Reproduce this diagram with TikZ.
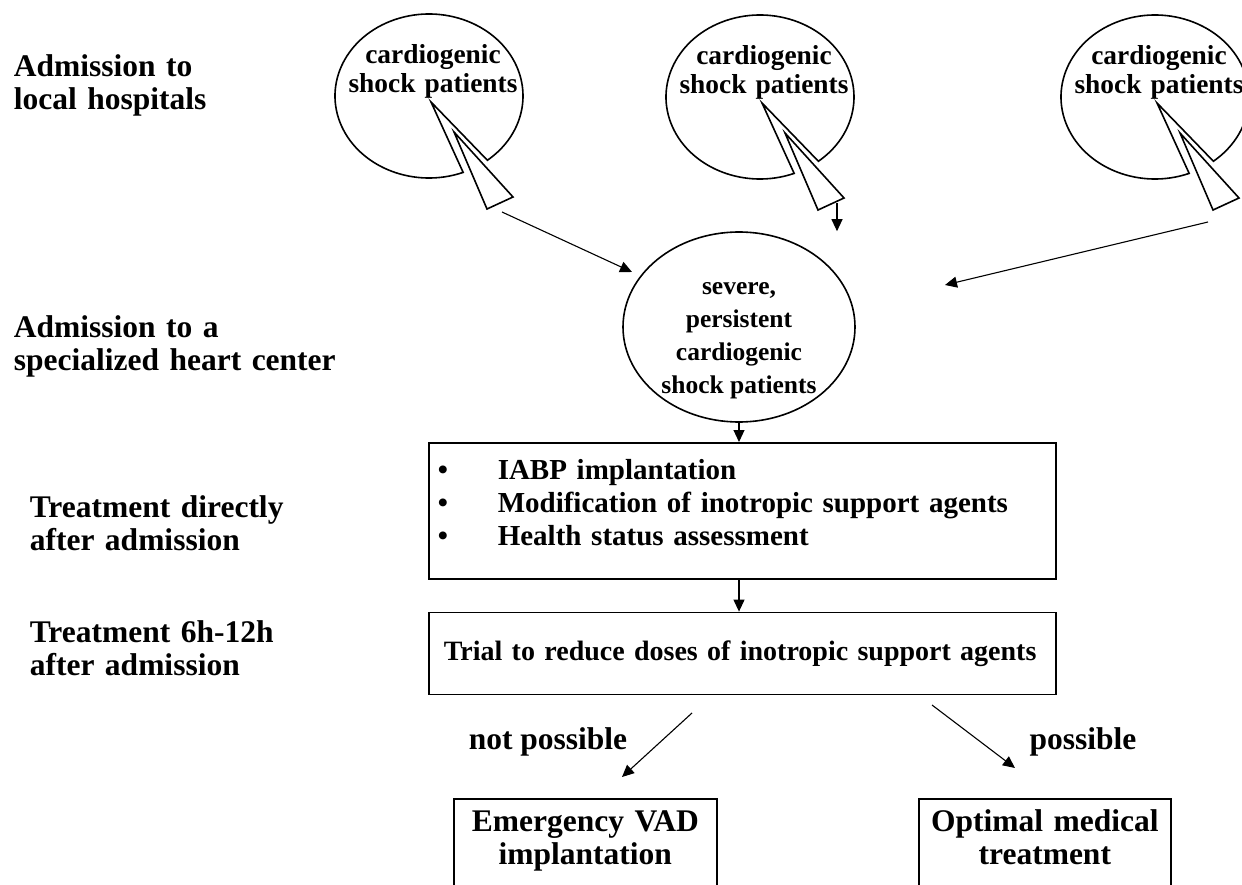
\documentclass[tikz,border=0pt]{standalone}
\usepackage{fontspec}
\setmainfont{Liberation Serif}
\usetikzlibrary{positioning, arrows.meta, calc, shapes.geometric}

\begin{document}
\begin{tikzpicture}[
    x=1pt, y=-1pt,
    line width=1.6pt,
    stage/.style={anchor=base west, align=left, inner sep=0pt, text width=340pt,
        font=\fontsize{31.5}{33}\selectfont\bfseries},
    calltext/.style={anchor=base, align=center, inner sep=0pt, text width=180pt,
        font=\fontsize{27.4}{29}\selectfont\bfseries},
    frame/.style={draw, rectangle, inner sep=0pt},
    branch/.style={anchor=base, inner sep=0pt, font=\fontsize{31.5}{33}\selectfont\bfseries},
    arr/.style={-{Triangle[length=12pt, width=11pt]}, line width=1.1pt},
]

\path[use as bounding box, fill=white] (0,0) rectangle (1242,885);

% stages on the left
\node[stage] (local) at (13,77) {Admission to\\local hospitals};
\node[stage] (center) at (13,337) {Admission to a\\specialized heart center};
\node[stage] (direct) at (29,517) {Treatment directly\\after admission};
\node[stage] (later) at (29,642) {Treatment 6h-12h\\after admission};

% balloons of the local hospitals
\foreach \cx/\cy [count=\i] in {429/96, 760/97, 1155/97} {
    \coordinate (c\i) at (\cx,\cy);
    \node[calltext] (t\i) at (\cx+4,\cy-32) {cardiogenic\\shock patients};
    \draw (c\i) ++(68.7:94 and 82)
        arc[start angle=68.7, end angle=411.6, x radius=94, y radius=82]
        -- ($(c\i)+(2,6)$) -- cycle;
    \draw ($(c\i)+(25,36)$) -- ($(c\i)+(58,113)$) -- ($(c\i)+(84,101)$) -- cycle;
}

\node[ellipse, draw, minimum width=232pt, minimum height=190pt, inner xsep=0pt,
      inner ysep=-8pt, text height=139pt, align=center,
      font=\fontsize{25.5}{33}\selectfont\bfseries] (severe) at (739,327)
    {severe,\\persistent\\cardiogenic\\shock patients};

\coordinate (from1) at (502,212);
\coordinate (from2) at (837,203);
\coordinate (from3) at (1208,222);
\coordinate (to1) at (632,272);
\coordinate (to3) at (945,285);

\draw[arr] (from1) -- (to1);
\draw[arr] (from2) -- (from2 |- severe.north);
\draw[arr] (from3) -- (to3);

% treatment boxes
\node[frame, anchor=north west, inner xsep=9pt, inner ysep=17pt, text width=609pt,
      align=left, text height=20pt, text depth=82pt,
      font=\fontsize{29}{33}\selectfont\bfseries] (measures) at (428,442)
    {\makebox[60pt][l]{\textbullet}IABP implantation\\
     \makebox[60pt][l]{\textbullet}Modification of inotropic support agents\\
     \makebox[60pt][l]{\textbullet}Health status assessment};

\node[frame, below=32pt of measures.south west, anchor=north west, inner xsep=15pt,
      text width=597pt, minimum height=82pt, align=left,
      font=\fontsize{28}{33}\selectfont\bfseries] (trial)
    {Trial to reduce doses of inotropic support agents};

\draw[arr] (severe.south) -- (severe.south |- measures.north);
\draw[arr] (severe.south |- measures.south) -- (severe.south |- trial.north);

% outcome
\coordinate (nofrom) at (692,713);
\coordinate (noto) at (622,777);
\coordinate (yesfrom) at (932,705);
\coordinate (yesto) at (1015,768);

\draw[arr] (nofrom) -- (noto);
\draw[arr] (yesfrom) -- (yesto);

\node[branch] (nolabel) at (548,749) {not possible};
\node[branch] (yeslabel) at (1083,749) {possible};

\node[frame, anchor=north west, inner xsep=4pt, inner ysep=11pt, text width=255pt,
      align=center, text height=22pt, text depth=100pt,
      font=\fontsize{31.5}{33}\selectfont\bfseries] (vad) at (453,798)
    {Emergency VAD\\implantation};
\node[frame, anchor=north west, inner xsep=4pt, inner ysep=11pt, text width=244pt,
      align=center, text height=22pt, text depth=100pt,
      font=\fontsize{31.5}{33}\selectfont\bfseries] (optimal) at (918,798)
    {Optimal medical\\treatment};

\end{tikzpicture}
\end{document}
